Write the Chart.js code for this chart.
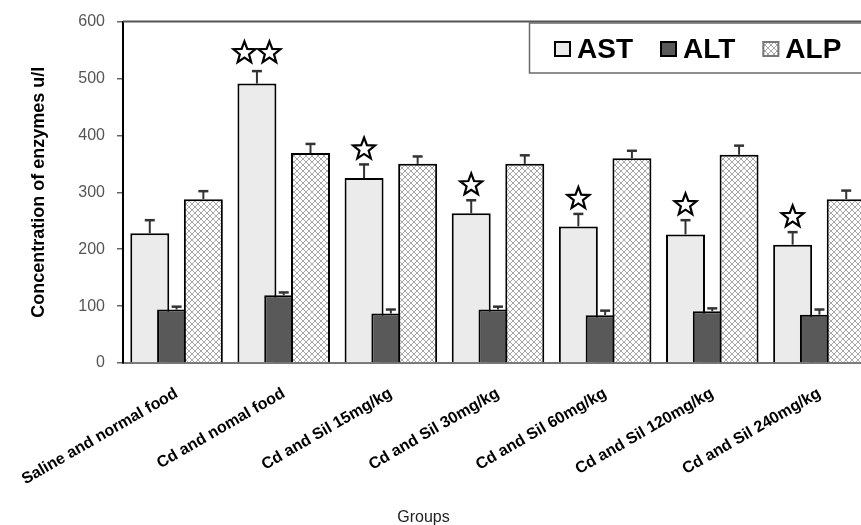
<!DOCTYPE html>
<html>
<head>
<meta charset="utf-8">
<script src="https://cdn.jsdelivr.net/npm/chart.js@4.4.1/dist/chart.umd.min.js"></script>
<style>
  html, body { margin: 0; padding: 0; background: #fff; overflow: hidden; width: 861px; height: 525px; }
  #wrap { position: relative; width: 900px; height: 525px; }
</style>
</head>
<body>
<div id="wrap"><canvas id="chart" width="900" height="525"></canvas></div>
<script>
// Treatment groups
const groups = [
  'Saline and normal food',
  'Cd and nomal food',
  'Cd and Sil 15mg/kg',
  'Cd and Sil 30mg/kg',
  'Cd and Sil 60mg/kg',
  'Cd and Sil 120mg/kg',
  'Cd and Sil 240mg/kg'
];

// Enzyme concentrations (u/l), mean and error
const astMean = [228, 491, 325, 263, 240, 226, 208];
const astErr  = [23, 22, 24, 23, 22, 25, 22];
const altMean = [94, 119, 87, 94, 84, 91, 85];
const altErr  = [5, 5, 7, 5, 8, 5, 9];
const alpMean = [288, 369, 350, 350, 360, 366, 288];
const alpErr  = [14, 16, 13, 15, 13, 16, 15];

// Number of significance stars above each AST bar
const astStars = [0, 2, 1, 1, 1, 1, 1];

// Value axis
const yMin = 0, yMax = 600, yStep = 100;

const FONT = "'Liberation Sans', Arial, sans-serif";

// Light-grey diagonal lattice used for ALP
function latticePattern() {
  const t = document.createElement('canvas');
  t.width = 6; t.height = 6;
  const c = t.getContext('2d');
  c.fillStyle = '#ffffff';
  c.fillRect(0, 0, 6, 6);
  c.strokeStyle = '#a8a8a8';
  c.lineWidth = 1;
  c.beginPath();
  c.moveTo(0, 0); c.lineTo(6, 6);
  c.moveTo(6, 0); c.lineTo(0, 6);
  c.stroke();
  return document.getElementById('chart').getContext('2d').createPattern(t, 'repeat');
}
const alpFill = latticePattern();

function drawStar(ctx, cx, cy, R, r) {
  ctx.beginPath();
  for (let i = 0; i < 10; i++) {
    const rad = i % 2 === 0 ? R : r;
    const a = -Math.PI / 2 + i * Math.PI / 5;
    const x = cx + rad * Math.cos(a), y = cy + rad * Math.sin(a);
    if (i === 0) ctx.moveTo(x, y); else ctx.lineTo(x, y);
  }
  ctx.closePath();
  ctx.fillStyle = '#fff';
  ctx.fill();
  ctx.lineWidth = 2.2;
  ctx.strokeStyle = '#000';
  ctx.lineJoin = 'miter';
  ctx.stroke();
}

// Bars are painted left to right so that each bar overlaps the one before it,
// then error bars and stars are added on top.
const barsPlugin = {
  id: 'barsLeftToRight',
  beforeDatasetsDraw(chart) {
    const ctx = chart.ctx;
    const metas = chart.getSortedVisibleDatasetMetas();
    for (const meta of metas) {
      ctx.save();
      meta.controller.draw();
      ctx.restore();
    }
    const y = chart.scales.y;
    metas.forEach(meta => {
      const ds = chart.data.datasets[meta.index];
      meta.data.forEach((bar, i) => {
        const top = y.getPixelForValue(ds.data[i]);
        const capY = y.getPixelForValue(ds.data[i] + ds.errors[i]);
        ctx.save();
        ctx.strokeStyle = '#333';
        ctx.lineWidth = 2;
        ctx.beginPath();
        ctx.moveTo(bar.x, top);
        ctx.lineTo(bar.x, capY);
        ctx.stroke();
        ctx.lineWidth = 2.5;
        ctx.beginPath();
        ctx.moveTo(bar.x - 5, capY);
        ctx.lineTo(bar.x + 5, capY);
        ctx.stroke();
        ctx.restore();
        if (ds.stars) {
          const n = ds.stars[i];
          const R = 11.5;
          const gap = n > 1 ? 9 : 6;
          const cy = capY - gap - 0.809 * R;
          for (let k = 0; k < n; k++) {
            const cx = bar.x + (k - (n - 1) / 2) * 25;
            drawStar(ctx, cx, cy, R, R * 0.42);
          }
        }
      });
    });
    return false;
  }
};

// Frame line, boxed legend and the "Groups" caption
const decorPlugin = {
  id: 'decor',
  afterDraw(chart) {
    const ctx = chart.ctx;
    const a = chart.chartArea;
    ctx.save();
    ctx.strokeStyle = '#555';
    ctx.lineWidth = 2;
    ctx.beginPath();
    ctx.moveTo(a.left, a.top);
    ctx.lineTo(a.right, a.top);
    ctx.stroke();

    // legend box
    ctx.strokeStyle = '#6a6a6a';
    ctx.lineWidth = 1.5;
    ctx.strokeRect(529.5, 23, 420, 50);
    ctx.font = 'bold 28px ' + FONT;
    ctx.textBaseline = 'alphabetic';
    ctx.textAlign = 'left';
    let x = 554;
    chart.data.datasets.forEach(ds => {
      ctx.fillStyle = ds.backgroundColor;
      ctx.fillRect(x, 41, 17, 16);
      ctx.strokeStyle = ds.legendBorder;
      ctx.lineWidth = 2;
      ctx.strokeRect(x + 1, 42, 15, 14);
      ctx.fillStyle = '#000';
      ctx.fillText(ds.label, x + 23, 57.5);
      x += 23 + ctx.measureText(ds.label).width + 27;
    });

    ctx.font = '16px ' + FONT;
    ctx.fillStyle = '#222';
    ctx.textAlign = 'center';
    ctx.fillText('Groups', 423.5, 521.5);
    ctx.restore();
  }
};

const barStyle = { borderColor: '#000', borderWidth: 2, barPercentage: 1.455, categoryPercentage: 0.75 };

new Chart(document.getElementById('chart'), {
  type: 'bar',
  data: {
    labels: groups,
    datasets: [
      Object.assign({ label: 'AST', data: astMean, errors: astErr, stars: astStars, backgroundColor: '#ebebeb', legendBorder: '#000' }, barStyle),
      Object.assign({ label: 'ALT', data: altMean, errors: altErr, backgroundColor: '#595959', legendBorder: '#000' }, barStyle),
      Object.assign({ label: 'ALP', data: alpMean, errors: alpErr, backgroundColor: alpFill, legendBorder: '#777' }, barStyle)
    ]
  },
  options: {
    responsive: false,
    animation: false,
    devicePixelRatio: 1,
    layout: { padding: { top: 20, right: 27, bottom: 0, left: 0 } },
    plugins: { legend: { display: false }, tooltip: { enabled: false } },
    scales: {
      x: {
        grid: { display: false },
        border: { display: true, color: '#777', width: 2 },
        ticks: {
          autoSkip: false, minRotation: 30, maxRotation: 30, padding: 13,
          color: '#000', font: { family: FONT, size: 16, weight: 'bold' }
        },
        afterFit(s) { s.height = 162; s.paddingLeft = 0; s.paddingRight = 0; }
      },
      y: {
        min: yMin, max: yMax,
        ticks: { stepSize: yStep, padding: 12, color: '#555', font: { family: FONT, size: 16 } },
        grid: { display: true, drawOnChartArea: false, drawTicks: true, tickLength: 6, color: '#666', lineWidth: 1.5 },
        border: { display: true, color: '#000', width: 2 },
        title: {
          display: true, text: 'Concentration of enzymes u/l', color: '#000',
          font: { family: FONT, size: 18, weight: 'bold' }, padding: { top: 28, bottom: 0 }
        },
        afterFit(s) { s.width = 123; }
      }
    }
  },
  plugins: [barsPlugin, decorPlugin]
});
</script>
</body>
</html>
